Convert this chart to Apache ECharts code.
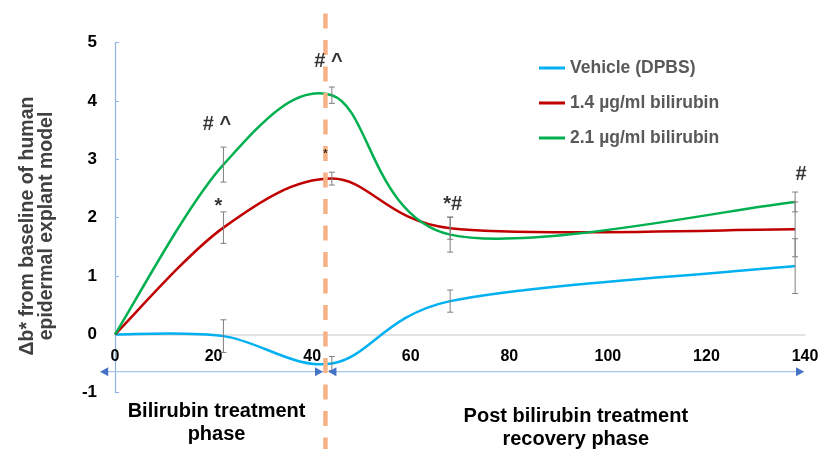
<!DOCTYPE html>
<html><head><meta charset="utf-8">
<script src="https://cdn.jsdelivr.net/npm/echarts@6/dist/echarts.min.js"></script>
<style>html,body{margin:0;padding:0;background:#fff}#c{width:825px;height:449px}</style>
</head><body><div id="c"></div>
<script>
// ---- data ----
const xValues = [0, 22, 44, 68, 138];
const vehicle = [0, -0.03, -0.50, 0.57, 1.17];
const bili14 = [0, 1.83, 2.67, 1.82, 1.80];
const bili21 = [0, 2.91, 4.10, 1.71, 2.27];
const vehicleErr = [0, 0.28, 0.12, 0.19, 0.47];
const bili14Err = [0, 0.27, 0.11, 0.19, 0.47];
const bili21Err = [0, 0.30, 0.14, 0.30, 0.17];
const seriesNames = ['Vehicle (DPBS)', '1.4 \u00b5g/ml bilirubin', '2.1 \u00b5g/ml bilirubin'];
const xTicks = [0, 20, 40, 60, 80, 100, 120, 140];
const yTicks = [-1, 0, 1, 2, 3, 4, 5];
const annX = [20.7, 21.0, 43.3, 42.7, 68.5, 139.2];
const annY = [3.59, 2.19, 4.67, 3.10, 2.23, 2.74];
const annText = ['# ^', '*', '# ^', '*', '*#', '#'];
const annSmall = [false, false, false, true, false, false];
const phaseBoundary = 42.7;
const arrowLevel = -0.64;
const phase1 = [-3, 42.2];
const phase2 = [43.3, 139.8];
const phaseLabels = ['Bilirubin treatment\nphase', 'Post bilirubin treatment\nrecovery phase'];
const phaseLabelX = [20.6, 93.5];
const yTitle = '\u0394b* from baseline of human\nepidermal explant model';

const colors = ['#00b0f0', '#c00000', '#00b050'];
const FONT = 'Arial, "Liberation Sans", sans-serif';
const pairs = ys => xValues.map((x, i) => [x, ys[i]]);
const allSeries = [vehicle, bili14, bili21];

const errData = [];
[[vehicle, vehicleErr], [bili14, bili14Err], [bili21, bili21Err]].forEach(([ys, es]) => {
  xValues.forEach((x, i) => { if (es[i] > 0) errData.push([x, ys[i] - es[i], ys[i] + es[i]]); });
});

// spreadsheet-style smoothed path through the pixel positions of the data points
function smoothPath(pts) {
  const d = (a, b) => Math.hypot(b[0] - a[0], b[1] - a[1]);
  let path = 'M' + pts[0][0] + ' ' + pts[0][1];
  for (let i = 0; i < pts.length - 1; i++) {
    const p0 = pts[Math.max(i - 1, 0)], p1 = pts[i], p2 = pts[i + 1], p3 = pts[Math.min(i + 2, pts.length - 1)];
    const d02 = d(p0, p2), d12 = d(p1, p2), d13 = d(p1, p3);
    const f = d02 > 0 ? Math.min(1 / 6, d12 / (2 * d02)) : 0;
    const g = d13 > 0 ? Math.min(1 / 6, d12 / (2 * d13)) : 0;
    const c1 = [p1[0] + f * (p2[0] - p0[0]), p1[1] + f * (p2[1] - p0[1])];
    const c2 = [p2[0] - g * (p3[0] - p1[0]), p2[1] - g * (p3[1] - p1[1])];
    path += ' C' + c1[0] + ' ' + c1[1] + ' ' + c2[0] + ' ' + c2[1] + ' ' + p2[0] + ' ' + p2[1];
  }
  return path;
}

const chart = echarts.init(document.getElementById('c'));
const lineSeries = allSeries.map((ys, i) => ({
  name: seriesNames[i], type: 'custom', data: [[i]], z: 3, clip: false,
  itemStyle: { color: colors[i] },
  renderItem: (params, api) => {
    const pts = pairs(ys).map(p => api.coord(p));
    return { type: 'path', shape: { pathData: smoothPath(pts) },
      style: { fill: 'none', stroke: colors[i], lineWidth: 2.5 } };
  }
}));

function arrowHead(x, y, dir) {
  const L = 8, H = 4.5;
  return { type: 'polygon', shape: { points: [[x, y], [x - dir * L, y - H], [x - dir * L, y + H]] }, style: { fill: '#4472c4' } };
}

chart.setOption({
  animation: false,
  textStyle: { fontFamily: FONT },
  grid: { left: 115, right: 20, top: 42.7, bottom: 56.3 },
  legend: {
    data: seriesNames.map((n, i) => ({ name: n, itemStyle: { color: colors[i] } })),
    orient: 'vertical', left: 534, top: 54,
    icon: 'rect', itemWidth: 26, itemHeight: 3, itemGap: 17,
    textStyle: { color: '#595959', fontWeight: 'bold', fontSize: 17.5, lineHeight: 18 }
  },
  xAxis: {
    type: 'value', min: 0, max: 140, interval: 20,
    axisLine: { onZero: true, lineStyle: { color: '#d9d9d9', width: 1.5 } },
    axisTick: { show: false }, splitLine: { show: false },
    axisLabel: { show: false }
  },
  yAxis: {
    type: 'value', min: -1, max: 5, interval: 1,
    axisLine: { show: true, onZero: false, lineStyle: { color: '#8eb4e3', width: 1.2 } },
    axisTick: { show: true, inside: true, length: 4, lineStyle: { color: '#8eb4e3' } },
    splitLine: { show: false },
    axisLabel: { color: '#000', fontWeight: 'bold', fontSize: 17, margin: 18,
      formatter: v => yTicks.includes(v) ? String(v) : '' }
  },
  series: [
    ...lineSeries,
    {
      type: 'custom', name: 'err', data: errData, z: 4, clip: false,
      renderItem: (params, api) => {
        const x = api.value(0);
        const lo = api.coord([x, api.value(1)]);
        const hi = api.coord([x, api.value(2)]);
        const s = { stroke: '#7f7f7f', lineWidth: 1 };
        return { type: 'group', children: [
          { type: 'line', shape: { x1: lo[0], y1: lo[1], x2: hi[0], y2: hi[1] }, style: s },
          { type: 'line', shape: { x1: lo[0] - 3, y1: lo[1], x2: lo[0] + 3, y2: lo[1] }, style: s },
          { type: 'line', shape: { x1: hi[0] - 3, y1: hi[1], x2: hi[0] + 3, y2: hi[1] }, style: s }
        ]};
      }
    },
    {
      type: 'custom', name: 'xlabels', data: xTicks.map(t => [t]), z: 2, clip: false, silent: true,
      renderItem: (params, api) => {
        const p = api.coord([api.value(0), 0]);
        return { type: 'text', x: p[0], y: p[1] + 22,
          style: { text: String(api.value(0)), align: 'center', verticalAlign: 'middle',
            font: 'bold 16px ' + FONT, fill: '#000' } };
      }
    },
    {
      type: 'custom', name: 'guides', data: [[0]], z: 5, clip: false, silent: true,
      renderItem: (params, api) => {
        const top = api.coord([phaseBoundary, 5.5]);
        const bot = api.coord([phaseBoundary, -2]);
        const a1 = api.coord([phase1[0], arrowLevel]);
        const a2 = api.coord([phase1[1], arrowLevel]);
        const b1 = api.coord([phase2[0], arrowLevel]);
        const b2 = api.coord([phase2[1], arrowLevel]);
        const ls = { stroke: '#a9c4eb', lineWidth: 1.2 };
        const t1 = api.coord([phaseLabelX[0], arrowLevel]);
        const t2 = api.coord([phaseLabelX[1], arrowLevel]);
        return { type: 'group', children: [
          { type: 'line', shape: { x1: top[0], y1: top[1], x2: bot[0], y2: bot[1] },
            style: { stroke: '#f5b287', lineWidth: 4.5, lineDash: [15, 11.5] } },
          { type: 'line', shape: { x1: a1[0], y1: a1[1], x2: a2[0], y2: a2[1] }, style: ls },
          { type: 'line', shape: { x1: b1[0], y1: b1[1], x2: b2[0], y2: b2[1] }, style: ls },
          arrowHead(a1[0], a1[1], -1), arrowHead(a2[0], a2[1], 1),
          arrowHead(b1[0], b1[1], -1), arrowHead(b2[0], b2[1], 1),
          { type: 'text', x: t1[0], y: t1[1] + 28, style: { text: phaseLabels[0], align: 'center', verticalAlign: 'top',
            font: 'bold 20px ' + FONT, fill: '#000', lineHeight: 23.3 } },
          { type: 'text', x: t2[0], y: t2[1] + 33, style: { text: phaseLabels[1], align: 'center', verticalAlign: 'top',
            font: 'bold 20px ' + FONT, fill: '#000', lineHeight: 23.3 } }
        ]};
      }
    },
    {
      type: 'scatter', name: 'annotations', symbolSize: 0, silent: true, z: 6,
      data: annX.map((x, i) => ({ value: [x, annY[i]],
        label: { show: true, position: 'inside', formatter: annText[i], color: '#000', fontWeight: 'bold',
          fontSize: annSmall[i] ? 11 : 20 } }))
    }
  ],
  graphic: [
    { type: 'text', x: 37, y: 226, rotation: Math.PI / 2, silent: true,
      style: { text: yTitle, align: 'center', verticalAlign: 'middle',
        font: 'bold 19.5px ' + FONT, fill: '#404040', lineHeight: 19.5 } }
  ]
});
</script></body></html>
